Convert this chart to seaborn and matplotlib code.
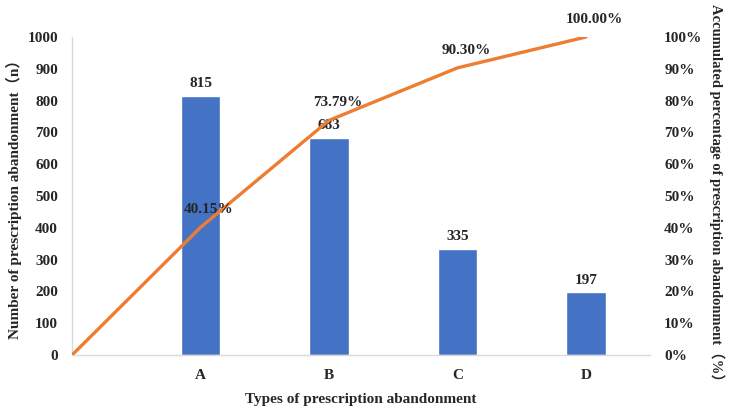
import matplotlib
matplotlib.use("Agg")
import matplotlib.pyplot as plt
import seaborn as sns
import pandas as pd
from matplotlib.ticker import PercentFormatter

# ---- data ----
types = ['A', 'B', 'C', 'D']
counts = [815, 683, 335, 197]
cum_pos = [-1, 0, 1, 2, 3]          # line starts at the left edge at 0%
cum_pct = [0.0, 40.15, 73.79, 90.30, 100.00]

sns.set_style('white')
plt.rcParams['font.family'] = ['Liberation Serif', 'Noto Sans CJK SC', 'DejaVu Sans']
plt.rcParams['font.weight'] = 'bold'

bar_color = '#4472C4'
line_color = '#ED7D31'
spine_color = '#D9D9D9'

fig, ax = plt.subplots(figsize=(7.5, 4.11), dpi=100)
fig.subplots_adjust(left=0.096, right=0.867, top=0.91, bottom=0.136)

df = pd.DataFrame({'type': types, 'n': counts})
sns.barplot(data=df, x='type', y='n', color=bar_color, width=0.31,
            saturation=1, ax=ax)

for i, v in enumerate(counts):
    ax.annotate(str(v), (i, v), xytext=(0, 4), textcoords='offset points',
                ha='center', va='bottom', fontsize=11, fontweight='bold')

ax.set_ylim(0, 1000)
ax.set_yticks(range(0, 1001, 100))
ax.set_xlim(-1, 3.5)
ax.set_xlabel('Types of prescription abandonment', fontsize=11,
              fontweight='bold', labelpad=8)
ax.set_ylabel('Number of prescription abandonment（n）', fontsize=11,
              fontweight='bold', labelpad=4)
ax.tick_params(axis='both', length=0, labelsize=11)
ax.tick_params(axis='y', pad=10)
ax.tick_params(axis='x', pad=10)
for s in ['top', 'right']:
    ax.spines[s].set_visible(False)
for s in ['left', 'bottom']:
    ax.spines[s].set_color(spine_color)
    ax.spines[s].set_linewidth(1)

ax2 = ax.twinx()
line_df = pd.DataFrame({'pos': cum_pos, 'pct': cum_pct})
sns.lineplot(data=line_df, x='pos', y='pct', color=line_color, linewidth=2.4,
             ax=ax2)
for x, y in zip(cum_pos[1:], cum_pct[1:]):
    ax2.annotate(f'{y:.2f}%', (x, y), xytext=(6, 8), textcoords='offset points',
                 ha='center', va='bottom', fontsize=11, fontweight='bold')

ax2.set_ylim(0, 100)
ax2.set_yticks(range(0, 101, 10))
ax2.yaxis.set_major_formatter(PercentFormatter(decimals=0))
ax2.set_xlim(-1, 3.5)
ax2.set_ylabel('Accumulated percentage of prescription abandonment（%）',
               fontsize=10.5, fontweight='bold', rotation=270, labelpad=16)
ax2.tick_params(axis='y', length=0, labelsize=11, pad=10)
for s in ['top', 'right', 'left', 'bottom']:
    ax2.spines[s].set_visible(False)
ax2.grid(False)
ax.grid(False)

for lab in ax.get_xticklabels() + ax.get_yticklabels() + ax2.get_yticklabels():
    lab.set_fontweight('bold')

fig.savefig('out.png', dpi=100)
